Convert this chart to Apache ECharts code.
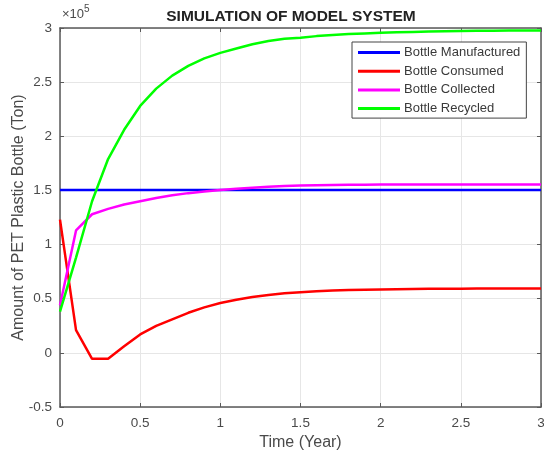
<!DOCTYPE html>
<html>
<head>
<meta charset="utf-8">
<script src="https://cdn.jsdelivr.net/npm/echarts@6/dist/echarts.min.js"></script>
<style>
  html, body { margin: 0; padding: 0; background: #fff; }
  #main { width: 544px; height: 457px; }
</style>
</head>
<body>
<div id="main"></div>
<script>
// time (year)
var years = [0, 0.1, 0.2, 0.3, 0.4, 0.5, 0.6, 0.7, 0.8, 0.9, 1.0,
    1.1, 1.2, 1.3, 1.4, 1.5, 1.6, 1.7, 1.8, 1.9, 2.0,
    2.1, 2.2, 2.3, 2.4, 2.5, 2.6, 2.7, 2.8, 2.9, 3.0];

// 各序列数值 (ton)
var manufactured = [150500, 150500, 150500, 150500, 150500, 150500, 150500, 150500, 150500, 150500, 150500,
    150500, 150500, 150500, 150500, 150500, 150500, 150500, 150500, 150500, 150500,
    150500, 150500, 150500, 150500, 150500, 150500, 150500, 150500, 150500, 150500];
var consumed = [123000, 21000, -5500, -5500, 6000, 17000, 25000, 31000, 37000, 42000, 46000,
    49000, 51500, 53500, 55000, 56000, 57000, 57500, 58000, 58300, 58600,
    58800, 59000, 59100, 59200, 59300, 59350, 59400, 59450, 59500, 59500];
var collected = [44000, 113000, 128000, 133000, 137000, 140000, 143000, 145500, 147500, 149000, 150500,
    151500, 152500, 153300, 154000, 154500, 154800, 155000, 155200, 155300, 155400,
    155400, 155500, 155500, 155500, 155500, 155500, 155500, 155500, 155500, 155500];
var recycled = [38000, 88000, 140000, 179000, 206000, 228000, 244000, 256000, 265000, 272000, 277000,
    281000, 285000, 288000, 290000, 291000, 292500, 293500, 294500, 295000, 295500,
    296000, 296400, 296700, 297000, 297200, 297400, 297500, 297600, 297700, 297800];

function pairs(arr) {
    var out = [];
    for (var i = 0; i < years.length; i++) {
        out.push([years[i], arr[i]]);
    }
    return out;
}

var chart = echarts.init(document.getElementById('main'));
var axisColor = '#5a5a5a';
var textColor = '#4a4a4a';
var font = 'Liberation Sans';

var option = {
    animation: false,
    title: {
        text: 'SIMULATION OF MODEL SYSTEM',
        left: 286,
        textAlign: 'center',
        top: 4,
        textStyle: { fontFamily: font, fontSize: 15.5, fontWeight: 'bold', color: '#222' }
    },
    graphic: [{
        type: 'text',
        left: 62,
        top: 4,
        style: {
            text: '{a|×10}{b|5}',
            rich: {
                a: { fontFamily: font, fontSize: 13, fill: textColor, padding: [6, 0, 0, 0] },
                b: { fontFamily: font, fontSize: 10, fill: textColor, padding: [0, 0, 5, 0] }
            }
        }
    }],
    legend: {
        orient: 'vertical',
        left: 352,
        top: 42,
        itemWidth: 42,
        itemHeight: 3,
        itemGap: 5.7,
        icon: 'rect',
        backgroundColor: '#fff',
        borderColor: '#444',
        borderWidth: 1,
        borderRadius: 0,
        padding: [4, 6, 3, 6],
        textStyle: { fontFamily: font, fontSize: 13, color: '#3a3a3a', padding: [0, 0, 0, -1] },
        data: ['Bottle Manufactured', 'Bottle Consumed', 'Bottle Collected', 'Bottle Recycled']
    },
    grid: { left: 60, right: 3, top: 28, bottom: 50, show: false, outerBoundsMode: 'none', containLabel: false },
    xAxis: [{
        type: 'value',
        min: 0, max: 3, interval: 0.5,
        name: 'Time (Year)',
        nameLocation: 'middle',
        nameGap: 28,
        nameMoveOverlap: false,
        nameTextStyle: { fontFamily: font, fontSize: 16, color: textColor },
        axisLine: { onZero: false, lineStyle: { color: axisColor, width: 1.5 } },
        axisTick: { inside: true, length: 4, lineStyle: { color: axisColor } },
        axisLabel: { fontFamily: font, fontSize: 13.5, color: textColor, margin: 9 },
        splitLine: { show: true, lineStyle: { color: '#e6e6e6' } }
    }, {
        type: 'value',
        position: 'top',
        min: 0, max: 3, interval: 0.5,
        axisLine: { onZero: false, lineStyle: { color: axisColor, width: 1.5 } },
        axisTick: { inside: true, length: 4, lineStyle: { color: axisColor } },
        axisLabel: { show: false },
        splitLine: { show: false }
    }],
    yAxis: [{
        type: 'value',
        min: -50000, max: 300000, interval: 50000,
        name: 'Amount of PET Plastic Bottle (Ton)',
        nameLocation: 'middle',
        nameGap: 33,
        nameMoveOverlap: false,
        nameTextStyle: { fontFamily: font, fontSize: 16, color: textColor },
        axisLine: { show: true, onZero: false, lineStyle: { color: axisColor, width: 1.5 } },
        axisTick: { show: true, inside: true, length: 4, lineStyle: { color: axisColor } },
        axisLabel: {
            fontFamily: font, fontSize: 13.5, color: textColor, margin: 8,
            formatter: function(v) { return String(Math.round(v / 1e5 * 10) / 10); }
        },
        splitLine: { show: true, lineStyle: { color: '#e6e6e6' } }
    }, {
        type: 'value',
        position: 'right',
        min: -50000, max: 300000, interval: 50000,
        axisLine: { show: true, onZero: false, lineStyle: { color: axisColor, width: 1.5 } },
        axisTick: { show: true, inside: true, length: 4, lineStyle: { color: axisColor } },
        axisLabel: { show: false },
        splitLine: { show: false }
    }],
    series: [{
        name: 'Bottle Manufactured',
        type: 'line',
        color: '#0000ff',
        showSymbol: false,
        lineStyle: { width: 2.5 },
        data: pairs(manufactured)
    }, {
        name: 'Bottle Consumed',
        type: 'line',
        color: '#ff0000',
        showSymbol: false,
        lineStyle: { width: 2.5 },
        data: pairs(consumed)
    }, {
        name: 'Bottle Collected',
        type: 'line',
        color: '#ff00ff',
        showSymbol: false,
        lineStyle: { width: 2.5 },
        data: pairs(collected)
    }, {
        name: 'Bottle Recycled',
        type: 'line',
        color: '#00ff00',
        showSymbol: false,
        lineStyle: { width: 2.5 },
        data: pairs(recycled)
    }]
};

chart.setOption(option);
</script>
</body>
</html>
